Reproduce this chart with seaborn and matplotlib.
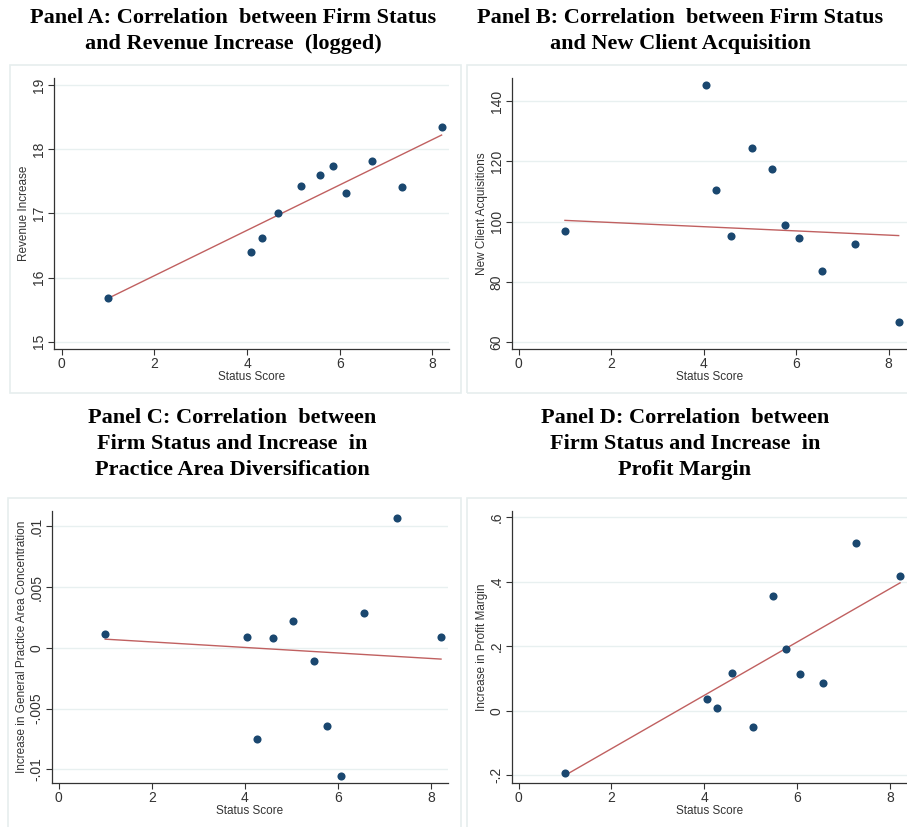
import numpy as np
import matplotlib
matplotlib.use("Agg")
import matplotlib.pyplot as plt
from matplotlib.patches import Rectangle
import seaborn as sns

# status scores
status_a = [1.0, 4.09, 4.33, 4.66, 5.16, 5.58, 5.85, 6.13, 6.69, 7.35, 8.2]
status = [1.0, 4.05, 4.27, 4.6, 5.04, 5.48, 5.77, 6.06, 6.56, 7.27, 8.22]

revenue = [15.68, 16.40, 16.62, 17.01, 17.43, 17.59, 17.74, 17.32, 17.81, 17.41, 18.35]
clients = [96.8, 145.4, 110.6, 95.3, 124.6, 117.5, 99.0, 94.6, 83.7, 92.5, 66.8]
concentration = [0.0011, 0.00085, -0.0075, 0.00077, 0.00217, -0.00107,
                 -0.0064, -0.01056, 0.00288, 0.01067, 0.0009]
profit = [-0.193, 0.035, 0.009, 0.116, -0.049, 0.355, 0.192, 0.115, 0.086, 0.518, 0.417]

# fitted lines (lfit) as printed, end points
fit_a = [15.675, 18.22]
fit_b = [100.4, 95.35]
fit_c = [0.00071, -0.00093]
fit_d = [-0.200, 0.396]

titles = [
    "Panel A: Correlation  between Firm Status\nand Revenue Increase  (logged)",
    "Panel B: Correlation  between Firm Status\nand New Client Acquisition",
    "Panel C: Correlation  between\nFirm Status and Increase  in\nPractice Area Diversification",
    "Panel D: Correlation  between\nFirm Status and Increase  in\nProfit Margin",
]
ylabels = ["Revenue Increase", "New Client Acquisitions",
           "Increase in General Practice Area Concentration", "Increase in Profit Margin"]
xticks = [0, 2, 4, 6, 8]
yticks_a = [15, 16, 17, 18, 19]
yticks_b = [60, 80, 100, 120, 140]
yticks_c = [-0.01, -0.005, 0, 0.005, 0.01]
ylabels_c = ["-.01", "-.005", "0", ".005", ".01"]
yticks_d = [-0.2, 0, 0.2, 0.4, 0.6]
ylabels_d = ["-.2", "0", ".2", ".4", ".6"]

W, H = 907, 827
fig = plt.figure(figsize=(W / 100, H / 100), dpi=100)
fig.patch.set_facecolor("white")


def px_axes(l, t, r, b):
    return fig.add_axes([l / W, 1 - b / H, (r - l) / W, (b - t) / H])


def px_box(l, t, r, b):
    fig.patches.append(Rectangle((l / W, 1 - b / H), (r - l) / W, (b - t) / H,
                                 transform=fig.transFigure, fill=False,
                                 edgecolor="#e6eeee", lw=1.2))


navy = "#1a476f"
red = "#c06060"
grid = "#e8f0f0"

panels = [
    # x, y, fit, axes box, outer box, xlim, ylim, yticks, yticklabels, title center
    (status_a, revenue, fit_a, (54, 78, 449, 349), (10, 65, 461, 393), (-0.166, 8.36),
     (14.886, 19.109), yticks_a, None, (233, 31)),
    (status, clients, fit_b, (512, 78, 907, 349), (467, 65, 912, 393), (-0.145, 8.4),
     (57.67, 147.7), yticks_b, None, (680, 31)),
    (status, concentration, fit_c, (52, 511, 448, 783), (8, 498, 461, 832), (-0.144, 8.37),
     (-0.01113, 0.01126), yticks_c, ylabels_c, (232, 444)),
    (status, profit, fit_d, (512, 511, 907, 783), (467, 498, 912, 832), (-0.144, 8.37),
     (-0.2238, 0.6186), yticks_d, ylabels_d, (685, 444)),
]

for i, (xv, yv, fit, abox, obox, xl, yl, yt, ytl, tc) in enumerate(panels):
    px_box(*obox)
    ax = px_axes(*abox)
    for tick in yt:
        ax.axhline(tick, color=grid, lw=1.0, zorder=0)
    sns.lineplot(x=[min(xv), max(xv)], y=fit, ax=ax, color=red, lw=1.0, zorder=2)
    sns.scatterplot(x=xv, y=yv, ax=ax, color=navy, s=34, linewidth=0, zorder=3)
    ax.set_xlim(*xl)
    ax.set_ylim(*yl)
    ax.set_xticks(xticks)
    ax.set_yticks(yt)
    if ytl is not None:
        ax.set_yticklabels(ytl)
    for s in ["top", "right"]:
        ax.spines[s].set_visible(False)
    for s in ["left", "bottom"]:
        ax.spines[s].set_color("#333333")
        ax.spines[s].set_linewidth(0.9)
    ax.tick_params(length=4, width=0.8, color="#333333", labelsize=10,
                   labelcolor="#333333", pad=2)
    for lbl in ax.get_yticklabels():
        lbl.set_rotation(90)
        lbl.set_va("center")
    ax.set_xlabel("Status Score", fontsize=8.5, color="#333333", labelpad=0)
    ax.set_ylabel(ylabels[i], fontsize=8.5, color="#333333", labelpad=1)
    fig.text(tc[0] / W, 1 - tc[1] / H, titles[i], ha="center", va="center",
             fontsize=16, fontweight="bold", family="Liberation Serif",
             linespacing=1.38)

for ax in fig.axes:
    for t in ax.get_xticklabels() + ax.get_yticklabels() + [ax.xaxis.label, ax.yaxis.label]:
        t.set_family("Liberation Sans")

fig.savefig("out.png", dpi=100)
